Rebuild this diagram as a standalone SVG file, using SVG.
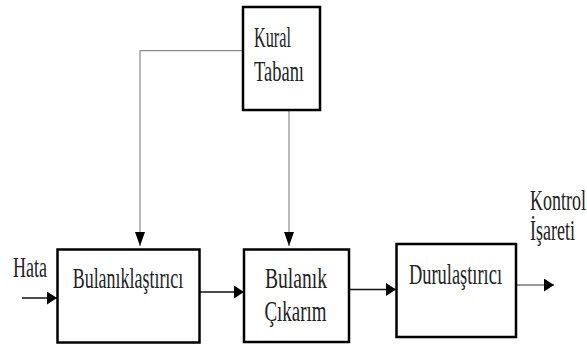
<svg xmlns="http://www.w3.org/2000/svg" width="587" height="345" viewBox="0 0 587 345">
  <style>
    .box { fill: #ffffff; stroke: #000000; stroke-width: 2.5; }
    .lbl { font-family: "Liberation Serif", "DejaVu Serif", "Times New Roman", serif; font-size: 30px; fill: #222222; }
    .feed { fill: none; stroke: #8a8a8a; stroke-width: 1.2; }
    .flow { fill: none; stroke: #111111; stroke-width: 1.4; }
    .flowg { fill: none; stroke: #777777; stroke-width: 1.6; }
  </style>
  <defs>
    <marker id="ah" markerUnits="userSpaceOnUse" markerWidth="11" markerHeight="13" refX="10" refY="6.5" orient="auto">
      <path d="M0,0 L10,6.5 L0,13 Z" fill="#000000"/>
    </marker>
    <marker id="av" markerUnits="userSpaceOnUse" markerWidth="15" markerHeight="10" refX="14" refY="5" orient="auto">
      <path d="M0,0 L14,5 L0,10 Z" fill="#000000"/>
    </marker>
  </defs>
  <rect width="587" height="345" fill="#ffffff"/>

  <g id="connectors">
    <polyline class="feed" points="243,50.7 140,50.7 140,246" marker-end="url(#av)"/>
    <line class="feed" x1="289" y1="110" x2="289" y2="246" marker-end="url(#av)"/>
    <line class="flow" x1="22" y1="298" x2="57" y2="298" marker-end="url(#ah)"/>
    <line class="flow" x1="200" y1="292" x2="244" y2="292" marker-end="url(#ah)"/>
    <line class="flow" x1="350" y1="289.5" x2="396" y2="289.5" marker-end="url(#ah)"/>
    <line class="flowg" x1="516" y1="285" x2="554" y2="285" marker-end="url(#ah)"/>
  </g>

  <g id="kural-tabani">
    <rect class="box" x="243" y="7" width="77" height="103"/>
    <text class="lbl" x="254" y="46.5" textLength="37" lengthAdjust="spacingAndGlyphs">Kural</text>
    <text class="lbl" x="254" y="81" textLength="50" lengthAdjust="spacingAndGlyphs">Tabanı</text>
  </g>

  <g id="hata">
    <text class="lbl" x="13" y="277" textLength="34" lengthAdjust="spacingAndGlyphs">Hata</text>
  </g>

  <g id="bulaniklastirici">
    <rect class="box" x="57.5" y="249.5" width="142" height="93"/>
    <text class="lbl" x="72.7" y="288.3" textLength="110.6" lengthAdjust="spacingAndGlyphs">Bulanıklaştırıcı</text>
  </g>

  <g id="bulanik-cikarim">
    <rect class="box" x="244" y="249.5" width="105" height="92.5"/>
    <text class="lbl" x="265" y="288.3" textLength="62" lengthAdjust="spacingAndGlyphs">Bulanık</text>
    <text class="lbl" x="264.5" y="321" textLength="62" lengthAdjust="spacingAndGlyphs">Çıkarım</text>
  </g>

  <g id="durulastirici">
    <rect class="box" x="396.5" y="244" width="119.5" height="93"/>
    <text class="lbl" x="409" y="283.5" textLength="93" lengthAdjust="spacingAndGlyphs">Durulaştırıcı</text>
  </g>

  <g id="kontrol-isareti" transform="translate(530,0) scale(0.6,1)">
    <text class="lbl" x="0" y="210">Kontrol</text>
    <text class="lbl" x="0" y="240.5">İşareti</text>
  </g>
</svg>
